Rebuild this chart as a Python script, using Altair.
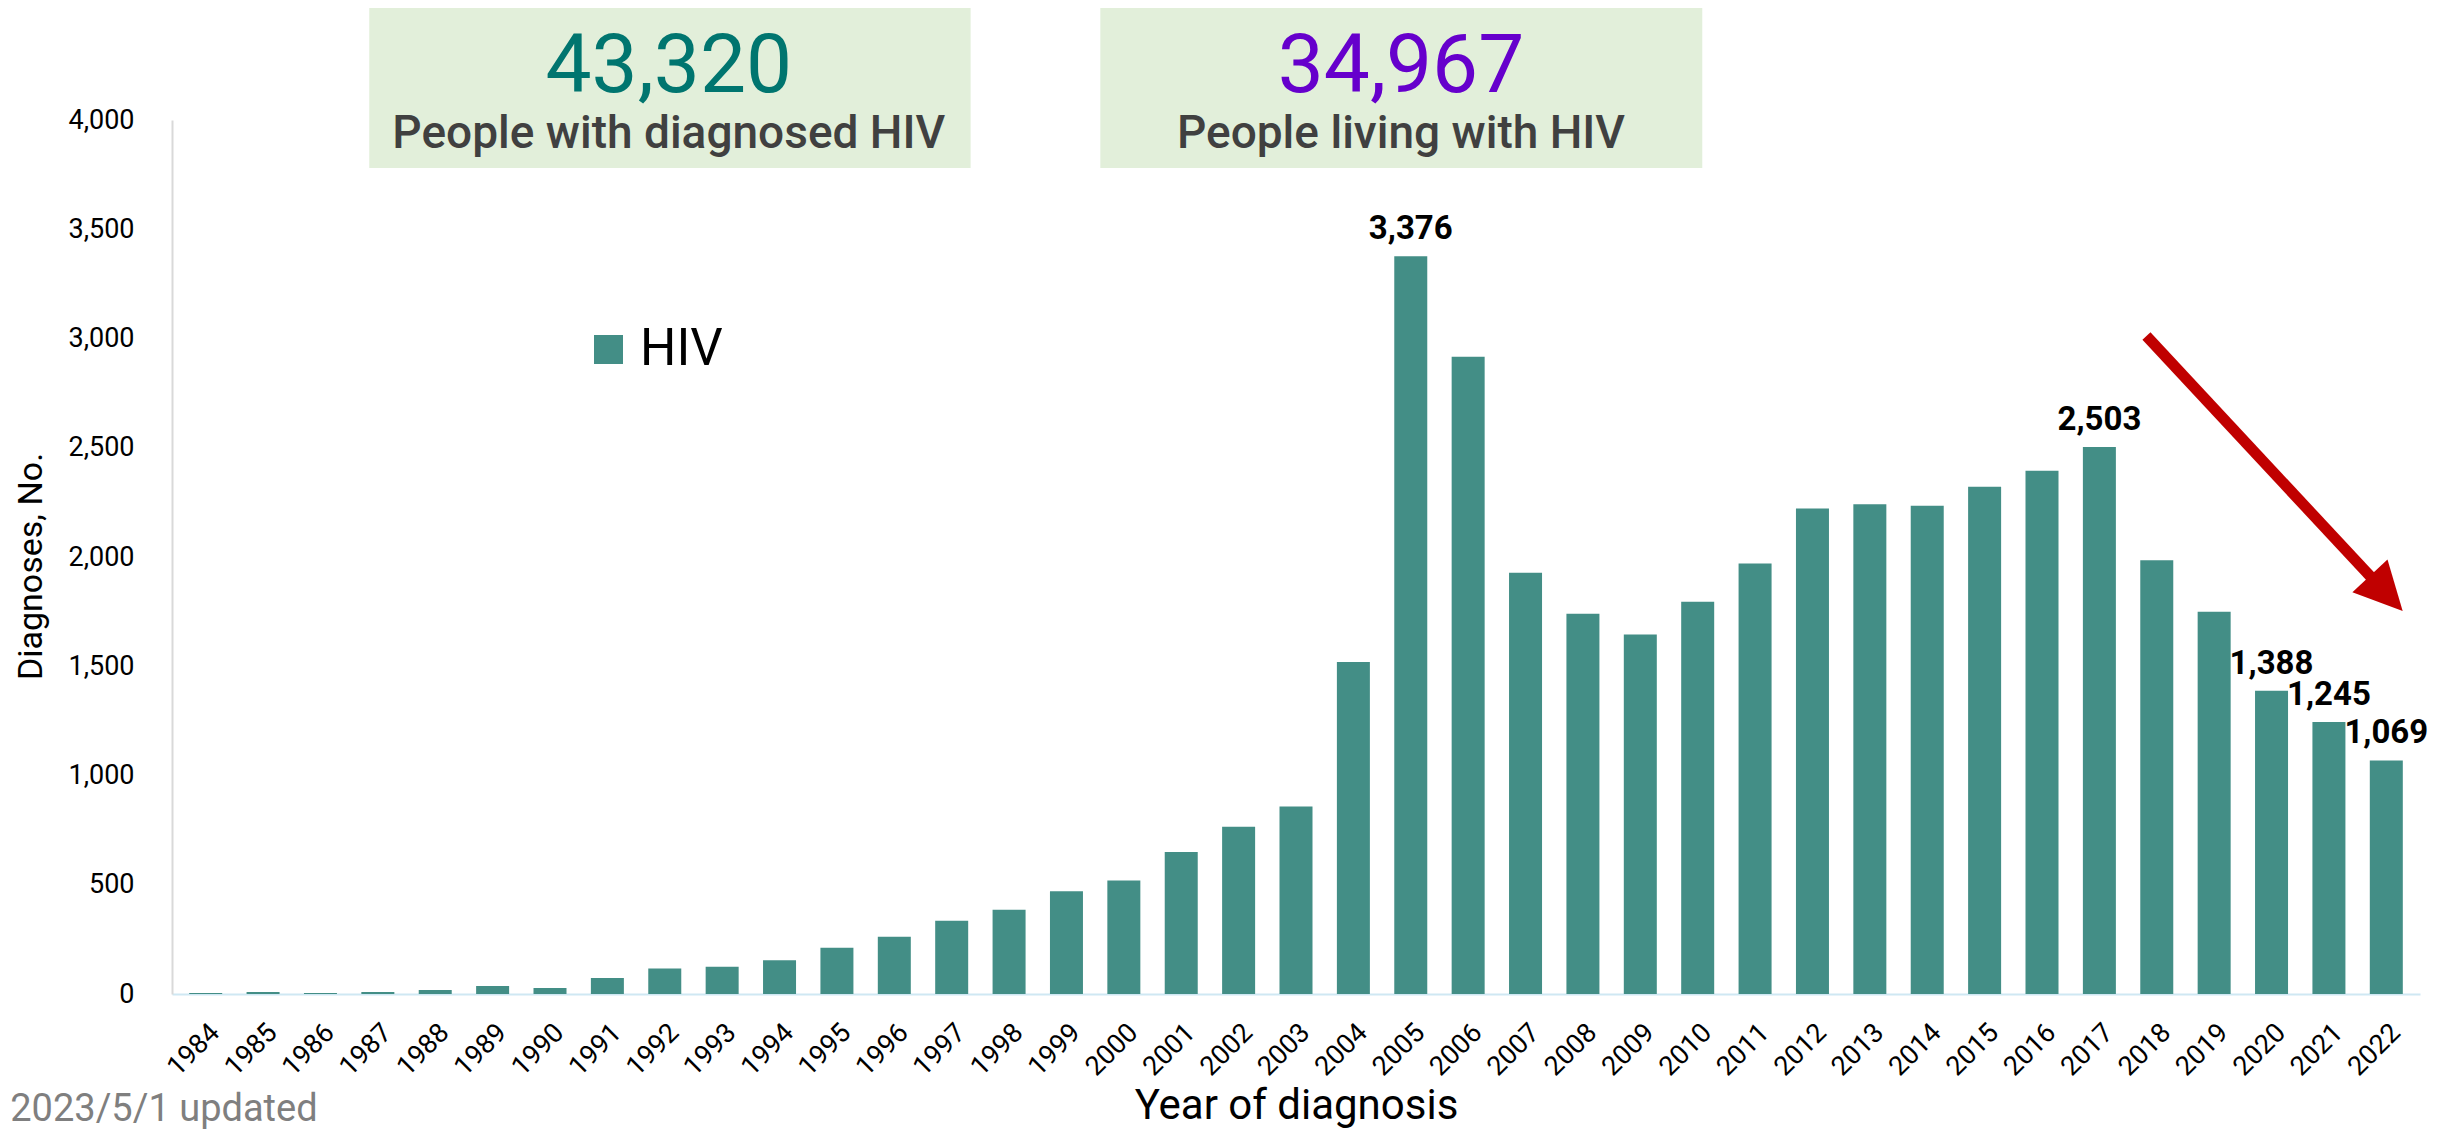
import altair as alt
import pandas as pd

# ---------------- data ----------------
years = list(range(1984, 2023))
diagnoses = [5, 9, 5, 9, 18, 37, 27, 73, 117, 125, 154, 212, 262, 335, 386, 470,
             520, 650, 766, 858, 1520, 3376, 2916, 1928, 1740, 1645, 1795, 1970,
             2222, 2241, 2234, 2322, 2395, 2503, 1985, 1750, 1388, 1245, 1069]
series_name = "HIV"
labeled_years = [2005, 2017, 2020, 2021, 2022]

# summary boxes (data coordinates: year axis / count axis)
box_x = [1986.85, 1999.59]
box_x2 = [1997.33, 2010.08]
box_y = [3780, 3780]
box_y2 = [4518, 4518]
big_numbers = ["43,320", "34,967"]
big_colors = ["#00756F", "#6600CC"]
big_x = [1992.07, 2004.83]
big_y = [4129, 4129]
sub_texts = ["People with diagnosed HIV", "People living with HIV"]
sub_y = [3872, 3872]

# trend arrow (data coordinates)
arrow_x, arrow_y = [2017.82], [3011]
arrow_x2, arrow_y2 = [2022.0], [1833]

updated_text = ["2023/5/1 updated"]
updated_x, updated_y = [1985.95], [-580]

y_ticks = list(range(0, 4001, 500))

# ---------------- tables ----------------
df = pd.DataFrame({"year": years, "value": diagnoses, "series": series_name})
df_lab = df[df["year"].isin(labeled_years)]
df_box = pd.DataFrame({"bx": box_x, "bx2": box_x2, "by": box_y, "by2": box_y2,
                       "num": big_numbers, "col": big_colors, "tx": big_x,
                       "ty": big_y, "sub": sub_texts, "sy": sub_y})
df_arrow = pd.DataFrame({"ax": arrow_x, "ay": arrow_y, "ax2": arrow_x2, "ay2": arrow_y2})
df_upd = pd.DataFrame({"t": updated_text, "ux": updated_x, "uy": updated_y})

FONT = "Roboto"
xscale = alt.Scale(domain=[1983.5, 2022.5], nice=False, zero=False)
yscale = alt.Scale(domain=[0, 4000], nice=False)

x_axis = alt.Axis(values=years, format="d", labelAngle=-45, labelAlign="right",
                  labelBaseline="top", labelPadding=25, labelFontSize=27,
                  labelFont=FONT, labelColor="black", ticks=False, grid=False,
                  domainColor="#CFE8F3", domainWidth=2, labelOverlap=False,
                  labelFlush=False, labelBound=False,
                  title="Year of diagnosis", titleFontSize=42, titleFont=FONT,
                  titleFontWeight="normal", titleColor="black", titleY=124,
                  titleBaseline="alphabetic")
y_axis = alt.Axis(values=y_ticks, format=",d", labelFontSize=27, labelFont=FONT,
                  labelColor="black", labelPadding=38, ticks=False, grid=False,
                  domainColor="#D9D9D9", domainWidth=2,
                  title="Diagnoses, No.", titleFontSize=34, titleFont=FONT,
                  titleFontWeight="normal", titleColor="black", titleAngle=270,
                  titleX=-131, titleY=446, titleAlign="center",
                  titleBaseline="alphabetic")

bars = alt.Chart(df).mark_bar(size=33).encode(
    x=alt.X("year:Q", scale=xscale, axis=x_axis),
    y=alt.Y("value:Q", scale=yscale, axis=y_axis),
    color=alt.Color("series:N",
                    scale=alt.Scale(domain=[series_name], range=["#438E86"]),
                    legend=alt.Legend(orient="none", legendX=411, legendY=204,
                                      title=None, symbolType="square",
                                      symbolSize=841, symbolStrokeWidth=0,
                                      symbolOpacity=1, labelFontSize=51,
                                      labelFont=FONT, labelColor="black",
                                      padding=0, labelOffset=6)),
)

labels = alt.Chart(df_lab).mark_text(
    dy=-17, baseline="alphabetic", align="center", fontSize=33,
    fontWeight="bold", font=FONT, color="black"
).encode(
    x=alt.X("year:Q", scale=xscale),
    y=alt.Y("value:Q", scale=yscale),
    text=alt.Text("value:Q", format=","),
)

boxes = alt.Chart(df_box).mark_rect(color="#E2EFDA").encode(
    x=alt.X("bx:Q", scale=xscale), x2="bx2:Q",
    y=alt.Y("by:Q", scale=yscale), y2="by2:Q",
)
big = alt.Chart(df_box).mark_text(
    fontSize=82, font=FONT, align="center", baseline="alphabetic"
).encode(
    x=alt.X("tx:Q", scale=xscale), y=alt.Y("ty:Q", scale=yscale),
    text="num:N", color=alt.Color("col:N", scale=None),
)
subs = alt.Chart(df_box).mark_text(
    fontSize=46, font=FONT, fontWeight=500, align="center",
    baseline="alphabetic", color="#404040"
).encode(
    x=alt.X("tx:Q", scale=xscale), y=alt.Y("sy:Q", scale=yscale), text="sub:N",
)

shaft = alt.Chart(df_arrow).mark_rule(color="#C00000", strokeWidth=11,
                                      strokeCap="butt").encode(
    x=alt.X("ax:Q", scale=xscale), y=alt.Y("ay:Q", scale=yscale),
    x2="ax2:Q", y2="ay2:Q",
)
head = alt.Chart(df_arrow).mark_point(
    shape="M0,-1L-1,1L1,1Z", size=2304, angle=137, filled=True,
    color="#C00000", opacity=1, strokeWidth=0
).encode(
    x=alt.X("ax2:Q", scale=xscale), y=alt.Y("ay2:Q", scale=yscale),
)

upd = alt.Chart(df_upd).mark_text(
    fontSize=38, font=FONT, align="right", baseline="alphabetic",
    color="#7F7F7F"
).encode(
    x=alt.X("ux:Q", scale=xscale), y=alt.Y("uy:Q", scale=yscale), text="t:N",
)

chart = alt.layer(boxes, big, subs, bars, labels, shaft, head, upd).properties(
    width=2248, height=874,
    padding={"left": 164, "top": 112, "right": 20, "bottom": 138},
    autosize=alt.AutoSizeParams(type="none"),
    background="white",
).configure_view(stroke=None)

chart.save("out.html", embed_options={"renderer": "svg", "actions": False})
